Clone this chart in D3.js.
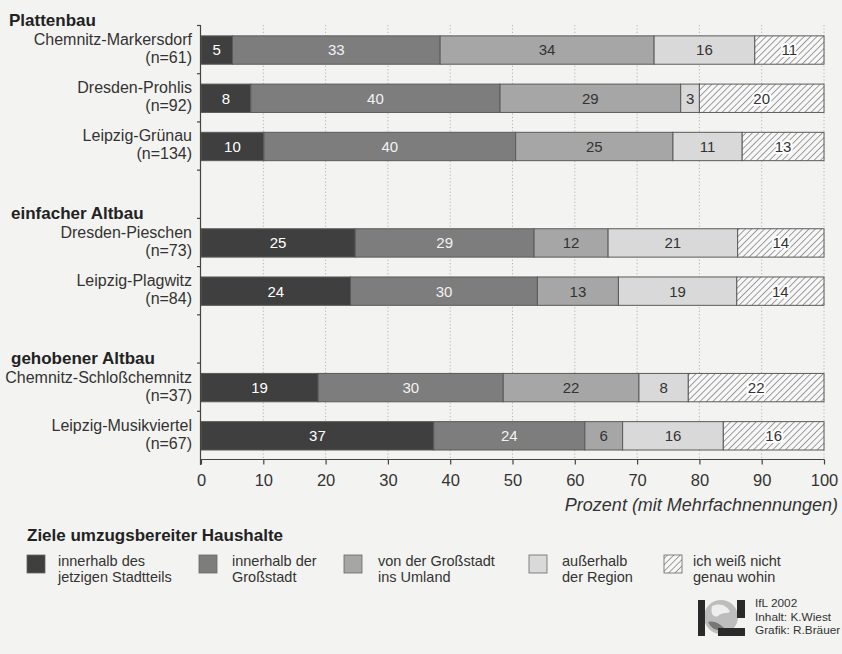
<!DOCTYPE html>
<html>
<head>
<meta charset="utf-8">
<script src="https://cdn.jsdelivr.net/npm/d3@7/dist/d3.min.js"></script>
<style>
  html, body { margin: 0; padding: 0; background: #f3f3f1; }
  svg { display: block; font-family: "Liberation Sans", Arial, Helvetica, sans-serif; }
</style>
</head>
<body>
<svg id="chart" width="842" height="654"></svg>
<script>
// ---------------- data ----------------
const categories = ["Chemnitz-Markersdorf", "Dresden-Prohlis", "Leipzig-Grünau",
                    "Dresden-Pieschen", "Leipzig-Plagwitz",
                    "Chemnitz-Schloßchemnitz", "Leipzig-Musikviertel"];
const sampleSizes = ["(n=61)", "(n=92)", "(n=134)", "(n=73)", "(n=84)", "(n=37)", "(n=67)"];
const groups = ["Plattenbau", "einfacher Altbau", "gehobener Altbau"];
const groupOfCategory = [0, 0, 0, 1, 1, 2, 2];

const innerhalbStadtteil  = [5, 8, 10, 25, 24, 19, 37];
const innerhalbGrossstadt = [33, 40, 40, 29, 30, 30, 24];
const insUmland           = [34, 29, 25, 12, 13, 22, 6];
const ausserhalbRegion    = [16, 3, 11, 21, 19, 8, 16];
const weissNicht          = [11, 20, 13, 14, 14, 22, 16];

const seriesLabels = [
  ["innerhalb des", "jetzigen Stadtteils"],
  ["innerhalb der", "Großstadt"],
  ["von der Großstadt", "ins Umland"],
  ["außerhalb", "der Region"],
  ["ich weiß nicht", "genau wohin"]
];
const xTicks = [0, 10, 20, 30, 40, 50, 60, 70, 80, 90, 100];
const xTitle = "Prozent (mit Mehrfachnennungen)";
const legendTitle = "Ziele umzugsbereiter Haushalte";
const credits = ["IfL 2002", "Inhalt: K.Wiest", "Grafik: R.Bräuer"];

// ---------------- setup ----------------
const series = [innerhalbStadtteil, innerhalbGrossstadt, insUmland, ausserhalbRegion, weissNicht];
const fills = ["#3f3f3f", "#7d7d7d", "#a6a6a6", "#d9d9d9", "url(#hatch)"];
const labelColors = ["#ffffff", "#f2f2f2", "#333333", "#333333", "#333333"];

const svg = d3.select("#chart");
const defs = svg.append("defs");
const pat = defs.append("pattern").attr("id", "hatch")
  .attr("patternUnits", "userSpaceOnUse").attr("width", 4.5).attr("height", 4.5)
  .attr("patternTransform", "rotate(45)");
pat.append("rect").attr("width", 4.5).attr("height", 4.5).attr("fill", "#f7f7f7");
pat.append("line").attr("x1", 0).attr("y1", 0).attr("x2", 0).attr("y2", 4.5)
  .attr("stroke", "#555").attr("stroke-width", 1.1);

// slots: categories with an empty slot before every group except the first
const slots = [];
categories.forEach((c, i) => {
  if (i > 0 && groupOfCategory[i] !== groupOfCategory[i - 1]) slots.push("gap" + i);
  slots.push(c);
});

const x = d3.scaleLinear().domain([0, 100]).range([201, 824]);
const y = d3.scaleBand().domain(slots).range([25.5, 459.5]).paddingInner(0).paddingOuter(0);
const bw = y.bandwidth();
const barTop = c => y(c) + bw * 0.215;
const barH = bw * 0.588;

// rows with normalized stacks
const rows = categories.map((c, i) => {
  const vals = series.map(s => s[i]);
  const total = d3.sum(vals);
  let cum = 0;
  const segs = vals.map((v, k) => {
    const s = { key: k, value: v, x0: cum / total * 100, x1: (cum + v) / total * 100 };
    cum += v;
    return s;
  });
  return { cat: c, n: sampleSizes[i], segs };
});

// gridlines
svg.append("g").selectAll("line").data(xTicks.filter(t => t > 0)).join("line")
  .attr("x1", d => x(d)).attr("x2", d => x(d))
  .attr("y1", 25).attr("y2", 459.5)
  .attr("stroke", "#a5a5a5").attr("stroke-width", 0.8)
  .attr("stroke-dasharray", "1.2,2.2");

// bars
const rowG = svg.append("g").selectAll("g").data(rows).join("g");
rowG.selectAll("rect").data(d => d.segs.map(s => ({ ...s, cat: d.cat }))).join("rect")
  .attr("x", d => x(d.x0)).attr("width", d => x(d.x1) - x(d.x0))
  .attr("y", d => barTop(d.cat)).attr("height", barH)
  .attr("fill", d => fills[d.key])
  .attr("stroke", "#5a5a5a").attr("stroke-width", 1);

rowG.selectAll("text").data(d => d.segs.map(s => ({ ...s, cat: d.cat }))).join("text")
  .attr("x", d => x((d.x0 + d.x1) / 2))
  .attr("y", d => barTop(d.cat) + barH / 2)
  .attr("dy", "0.36em")
  .attr("text-anchor", "middle")
  .attr("font-size", 15)
  .attr("fill", d => labelColors[d.key])
  .attr("stroke", d => d.key === 4 ? "#ffffff" : "none")
  .attr("stroke-width", 4).attr("stroke-linejoin", "round")
  .attr("paint-order", "stroke")
  .text(d => d.value);

// category labels
const labG = svg.append("g").attr("font-size", 16).attr("fill", "#333").attr("text-anchor", "end");
rows.forEach(r => {
  const cy = barTop(r.cat) + barH / 2;
  labG.append("text").attr("x", 192).attr("y", cy - 5).text(r.cat);
  labG.append("text").attr("x", 192).attr("y", cy + 13).text(r.n);
});

// group headers
groups.forEach((g, gi) => {
  const first = categories[groupOfCategory.indexOf(gi)];
  svg.append("text").attr("x", gi === 0 ? 9 : 11).attr("y", y(first) + 0.5)
    .attr("font-size", 17).attr("font-weight", "bold").attr("fill", "#222").text(g);
});

// y axis (line with slot ticks)
const yAxisG = svg.append("g").attr("stroke", "#444").attr("stroke-width", 1.2);
yAxisG.append("line").attr("x1", 200.5).attr("x2", 200.5).attr("y1", 25).attr("y2", 465);
yAxisG.selectAll(".yt").data(slots.map(s => y(s))).join("line").attr("class", "yt")
  .attr("x1", 197).attr("x2", 200.5).attr("y1", d => d).attr("y2", d => d);

// x axis
const xAxis = d3.axisBottom(x).tickValues(xTicks).tickSize(5).tickPadding(10).tickFormat(d3.format("d"));
const xg = svg.append("g").attr("transform", "translate(0,459.5)").call(xAxis);
xg.select(".domain").attr("stroke", "#444").attr("stroke-width", 1.2).attr("d", "M200.5,0H824.5");
xg.selectAll(".tick line").attr("stroke", "#444").attr("stroke-width", 1.2);
xg.selectAll(".tick text").attr("font-size", 16.5).attr("fill", "#333")
  .attr("font-family", "'Liberation Sans', Arial, sans-serif");

svg.append("text").attr("x", 838).attr("y", 511).attr("text-anchor", "end")
  .attr("font-size", 18).attr("font-style", "italic").attr("fill", "#333").text(xTitle);

// legend
svg.append("text").attr("x", 27).attr("y", 541).attr("font-size", 17)
  .attr("font-weight", "bold").attr("fill", "#222").text(legendTitle);
const swatchX = [27, 199, 344, 529, 664];
const legTextX = [58, 232, 378, 562, 693];
const legG = svg.append("g").selectAll("g").data(seriesLabels).join("g");
legG.append("rect")
  .attr("x", (d, i) => swatchX[i]).attr("y", 555).attr("width", 18).attr("height", 18)
  .attr("fill", (d, i) => fills[i]).attr("stroke", "#666").attr("stroke-width", 0.8);
legG.append("text").attr("x", (d, i) => legTextX[i]).attr("y", 566)
  .attr("font-size", 14.5).attr("fill", "#333").text(d => d[0]);
legG.append("text").attr("x", (d, i) => legTextX[i]).attr("y", 582)
  .attr("font-size", 14.5).attr("fill", "#333").text(d => d[1]);

// logo + credits
const logo = svg.append("g").attr("transform", "translate(698,600)");
logo.append("circle").attr("cx", 23).attr("cy", 17).attr("r", 17).attr("fill", "#bdbdbd");
logo.append("path").attr("d", "M14,6 C22,2 30,6 32,12 C28,14 24,12 20,16 C16,18 12,14 14,6 Z").attr("fill", "#eeeeee");
logo.append("path").attr("d", "M10,22 C16,20 22,24 26,28 C20,32 14,30 10,22 Z").attr("fill", "#777");
logo.append("rect").attr("x", 0).attr("y", 0).attr("width", 7).attr("height", 36).attr("fill", "#2a2a2a");
logo.append("rect").attr("x", 39).attr("y", 0).attr("width", 8).attr("height", 18).attr("fill", "#2a2a2a");
logo.append("rect").attr("x", 20).attr("y", 28).attr("width", 27).attr("height", 8).attr("fill", "#2a2a2a");
svg.append("g").selectAll("text").data(credits).join("text")
  .attr("x", 755).attr("y", (d, i) => 607 + i * 13.5)
  .attr("font-size", 11.8).attr("fill", "#333").text(d => d);
</script>
</body>
</html>
